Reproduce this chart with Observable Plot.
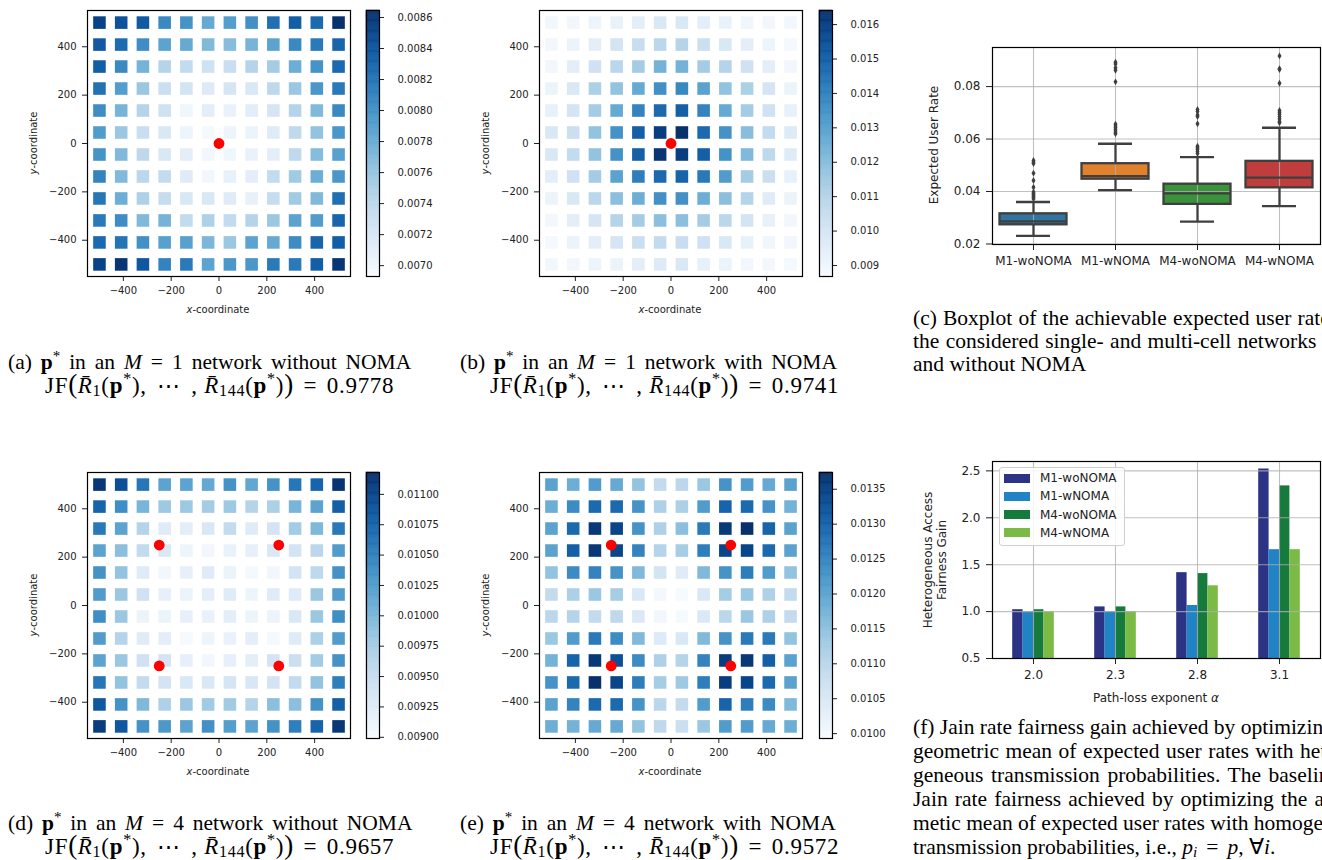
<!DOCTYPE html>
<html><head><meta charset="utf-8">
<script src="https://cdn.jsdelivr.net/npm/d3@7"></script>
<script src="https://cdn.jsdelivr.net/npm/@observablehq/plot@0.6"></script>
<style>
body{margin:0;background:#fff}
#page{position:relative;width:1322px;height:860px;overflow:hidden;background:#fff}
.ab{position:absolute}
.cap{position:absolute;font-family:"Liberation Serif","Times New Roman",serif;font-size:21.5px;line-height:23px;white-space:nowrap;color:#000}
.cap sub,.cap sup{font-size:70%;line-height:0}
.cap sub{vertical-align:-0.17em}
.l1{word-spacing:3.5px}
.m2{font-size:23px;letter-spacing:0.03em;line-height:21px}
.dots{padding:0 4px}
.just{width:448px;text-align:justify;text-align-last:justify}
.lbl{position:absolute;font-family:"DejaVu Sans";white-space:nowrap;color:#222;transform:translate(-50%,-50%)}
.rot{transform:translate(-50%,-50%) rotate(-90deg)}
.eq{padding:0 0.42em}
.big{font-size:118%;line-height:0}
.legend{position:absolute;border:1px solid #d0d0d0;border-radius:3px;background:rgba(255,255,255,0.85);font-family:"DejaVu Sans";font-size:12px;color:#222}
.legend .row{position:absolute;left:4px;height:10px;display:flex;align-items:center}
.legend .sw{width:26px;height:9px;margin-right:10px}
</style></head>
<body><div id="page"></div>
<script>
// ---------- data ----------
const gridCoords = [-500, -409.1, -318.2, -227.3, -136.4, -45.5, 45.5, 136.4, 227.3, 318.2, 409.1, 500];
// expected user rates (x 1e-3), rows from y = 500 (top) to y = -500 (bottom)
const rateA = [
[8.52,8.42,8.37,8.06,7.99,7.82,7.91,8.01,8.23,8.34,8.27,8.63],
[8.37,8.25,8.03,7.87,7.82,7.70,7.67,7.74,7.87,8.06,8.16,8.30],
[8.34,8.06,7.75,7.44,7.36,7.27,7.32,7.44,7.53,7.79,7.99,8.27],
[8.22,7.91,7.58,7.31,7.24,7.15,7.22,7.19,7.39,7.58,7.96,8.16],
[8.03,7.74,7.44,7.27,7.00,7.10,7.05,7.12,7.22,7.44,7.70,8.06],
[7.92,7.58,7.32,7.19,7.02,6.96,7.02,7.03,7.14,7.38,7.62,7.96],
[7.99,7.70,7.39,7.19,7.10,6.98,7.00,7.05,7.10,7.38,7.67,7.89],
[8.10,7.70,7.41,7.36,7.14,6.98,7.07,7.10,7.36,7.55,7.79,7.96],
[8.18,7.79,7.48,7.34,7.19,7.19,7.14,7.07,7.34,7.55,7.70,8.23],
[8.16,8.03,7.70,7.75,7.36,7.48,7.36,7.44,7.58,7.87,7.92,8.30],
[8.27,8.20,8.01,7.89,7.89,7.72,7.58,7.87,7.82,8.04,8.30,8.34],
[8.52,8.61,8.39,8.10,8.16,7.87,7.96,7.96,8.16,8.16,8.34,8.61]];
const rateB = [
[8.91,8.91,9.07,9.22,9.45,9.84,9.84,9.45,9.22,8.99,8.91,8.91],
[8.91,9.14,9.45,10.07,10.46,10.84,11.00,10.38,9.84,9.45,9.07,8.83],
[8.91,9.45,10.23,10.84,11.39,12.39,12.39,11.39,11.00,10.23,9.45,8.91],
[9.14,9.84,11.23,11.77,12.70,13.55,13.78,12.93,11.77,11.23,9.99,9.14],
[9.30,10.07,11.39,12.70,13.94,14.71,15.02,13.94,12.70,11.39,10.23,9.30],
[9.84,10.38,11.77,13.47,15.02,16.02,16.41,14.71,13.47,12.00,10.61,9.68],
[9.84,10.61,11.77,13.47,15.02,16.26,16.02,15.02,13.47,12.16,10.77,9.61],
[9.45,10.23,11.39,12.93,14.09,14.71,14.86,14.25,13.16,11.39,10.38,9.30],
[9.14,9.84,10.84,11.93,12.55,13.55,13.55,12.55,11.93,11.00,9.61,9.14],
[8.91,9.45,9.99,11.00,11.39,11.93,11.93,11.39,10.84,10.07,9.30,8.91],
[8.83,9.14,9.45,9.99,10.38,10.61,10.46,10.23,9.84,9.30,8.99,8.91],
[8.91,8.91,9.07,9.14,9.45,9.68,9.84,9.30,9.14,8.91,8.91,8.83]];
const rateD = [
[11.11,10.92,10.59,10.19,10.19,10.13,10.35,10.15,10.35,10.59,10.74,11.14],
[10.74,10.39,10.02,9.80,9.80,9.76,9.80,9.65,9.71,10.02,10.19,10.79],
[10.57,10.19,9.65,9.25,9.21,9.32,9.54,9.25,9.38,9.76,9.98,10.57],
[10.19,9.91,9.54,9.32,9.10,9.06,9.14,9.17,9.32,9.38,9.60,10.26],
[10.35,9.87,9.25,9.06,9.17,9.25,9.12,9.03,9.06,9.38,9.58,10.35],
[10.26,9.82,9.43,9.17,9.12,9.21,9.25,9.10,9.25,9.25,9.82,10.26],
[10.39,9.82,9.12,9.12,9.17,9.14,9.21,9.10,9.12,9.32,9.82,10.39],
[10.26,9.65,9.25,9.21,9.01,9.10,9.14,9.21,9.03,9.25,9.71,10.26],
[10.19,9.82,9.43,9.38,9.17,9.06,9.17,9.21,9.38,9.47,9.76,10.35],
[10.59,9.87,9.54,9.38,9.32,9.32,9.36,9.34,9.38,9.54,9.87,10.52],
[10.85,10.35,9.98,9.69,9.82,9.78,9.78,9.65,9.91,9.91,10.35,10.79],
[11.07,10.85,10.35,10.30,10.19,10.37,10.24,10.19,10.35,10.52,10.74,11.11]];
const rateE = [
[12.03,11.84,12.14,11.91,11.45,10.88,11.00,11.38,12.29,12.14,11.91,12.03],
[11.84,12.41,12.90,12.90,12.29,11.15,11.19,12.14,12.98,12.90,12.29,11.76],
[12.03,12.90,13.63,13.44,12.29,11.15,11.53,12.67,13.59,13.74,12.98,12.03],
[12.03,13.05,13.63,13.44,12.52,11.07,11.26,12.60,13.44,13.44,12.90,12.03],
[11.45,12.41,12.52,12.29,11.64,10.62,10.39,11.64,12.29,12.60,12.14,11.45],
[10.88,11.19,11.38,11.26,10.50,10.01,9.97,10.50,11.26,11.38,11.15,10.88],
[11.00,11.07,10.88,10.96,10.46,10.04,9.97,10.46,11.00,11.38,11.15,10.88],
[11.38,12.14,12.67,12.41,11.64,10.43,10.50,11.64,12.29,12.67,12.67,11.45],
[11.76,12.98,13.63,13.28,12.41,11.15,11.07,12.52,13.55,13.63,13.05,12.03],
[12.29,12.90,13.74,13.44,12.60,11.26,11.34,12.60,13.55,13.44,12.90,12.03],
[12.03,12.52,12.90,12.90,12.29,11.00,10.88,12.14,12.98,12.60,12.41,11.64],
[11.84,11.76,11.91,11.91,11.45,10.96,10.77,11.38,12.14,12.14,11.91,11.84]];
const bsM1 = [{x:0, y:0}];
const bsM4 = [{x:-250,y:250},{x:250,y:250},{x:-250,y:-250},{x:250,y:-250}];
const colorDomA = [6.93, 8.645], colorDomB = [8.68, 16.41], colorDomD = [8.99, 11.18], colorDomE = [9.93, 13.74];
const cbTicksA = [7.0,7.2,7.4,7.6,7.8,8.0,8.2,8.4,8.6];
const cbTicksB = [9,10,11,12,13,14,15,16];
const cbTicksD = [9.00,9.25,9.50,9.75,10.00,10.25,10.50,10.75,11.00];
const cbTicksE = [10.0,10.5,11.0,11.5,12.0,12.5,13.0,13.5];
const axisTicks = [-400,-200,0,200,400];

// boxplot (c)
const boxCats = ["M1-woNOMA","M1-wNOMA","M4-woNOMA","M4-wNOMA"];
const boxColors = ["#3274a1","#e1812c","#3a923a","#c03d3e"];
const boxQ1  = [0.0273, 0.0447, 0.0351, 0.0414];
const boxMed = [0.0286, 0.0459, 0.0393, 0.0453];
const boxQ3  = [0.0315, 0.0506, 0.0428, 0.0515];
const boxLo  = [0.0231, 0.0405, 0.0285, 0.0344];
const boxHi  = [0.0360, 0.0582, 0.0531, 0.0643];
const boxOutliers = [
  [0.0518,0.0512,0.0507,0.0470,0.0442,0.0416,0.0398,0.0393,0.0388,0.0383,0.0378,0.0372],
  [0.0893,0.0886,0.0872,0.0862,0.0818,0.0657,0.0650,0.0643,0.0635,0.0627,0.0620],
  [0.0713,0.0705,0.0692,0.0686,0.0658,0.0573,0.0567,0.0561,0.0553,0.0545],
  [0.0917,0.0868,0.0865,0.0813,0.0709,0.0702,0.0695,0.0686,0.0677,0.0667,0.0662]];
const boxYTicks = [0.02,0.04,0.06,0.08];

// bars (f)
const alphas = ["2.0","2.3","2.8","3.1"];
const barSeries = ["M1-woNOMA","M1-wNOMA","M4-woNOMA","M4-wNOMA"];
const barColors = ["#2c3385","#1f83c6","#167a3d","#7aba45"];
const barValues = [
  [1.02, 1.05, 1.415, 2.52],
  [1.00, 1.00, 1.065, 1.66],
  [1.02, 1.05, 1.405, 2.34],
  [1.00, 1.00, 1.275, 1.66]];
const barYTicks = [0.5,1.0,1.5,2.0,2.5];

// ---------- helpers ----------
const page = document.getElementById("page");
function place(node, left, top){ const d=document.createElement("div"); d.className="ab"; d.style.left=left+"px"; d.style.top=top+"px"; d.appendChild(node); page.appendChild(d); }
function html(cls, h, left, top, extra){ const d=document.createElement("div"); d.className=cls; d.innerHTML=h; d.style.left=left+"px"; d.style.top=top+"px"; if(extra) d.style.cssText+=extra; page.appendChild(d); return d; }
const baseStyle = {fontFamily:"DejaVu Sans", fontSize:"10px", color:"#222", background:"white", overflow:"visible"};

function cellsOf(vals){ const out=[]; vals.forEach((row,r)=>row.forEach((v,c)=>out.push({x:gridCoords[c], y:gridCoords[11-r], v}))); return out; }

function heat(vals, dom, bs, left, top){
  const svg = Plot.plot({
    width:355, height:306, marginLeft:87, marginRight:5, marginTop:10, marginBottom:30,
    style: baseStyle,
    x:{domain:[-550,550], ticks:axisTicks, tickSize:5, tickPadding:5, label:null},
    y:{domain:[-550,550], ticks:axisTicks, tickSize:5, tickPadding:6, label:null},
    color:{type:"linear", scheme:"blues", domain:dom},
    marks:[
      Plot.dot(cellsOf(vals), {x:"x", y:"y", fill:"v", symbol:"square", r:7.1}),
      Plot.dot(bs, {x:"x", y:"y", fill:"#ff0000", r:5.4}),
      Plot.frame({stroke:"#000", strokeWidth:1.2})
    ]
  });
  place(svg, left, top);
}
function colorbar(dom, ticks, fmt, left, top){
  const n = 240, steps = [];
  for (let i=0;i<n;i++){ const a = dom[0]+(dom[1]-dom[0])*i/n, b = dom[0]+(dom[1]-dom[0])*(i+1)/n; steps.push({x1:0,x2:1,a,b,m:(a+b)/2}); }
  const svg = Plot.plot({
    width:80, height:306, marginLeft:0, marginRight:67, marginTop:10, marginBottom:30,
    style: baseStyle,
    x:{domain:[0,1], axis:null},
    y:{domain:dom, axis:"right", ticks, tickFormat:fmt, tickSize:4, tickPadding:14, label:null},
    color:{type:"linear", scheme:"blues", domain:dom},
    marks:[
      Plot.rect(steps, {x1:"x1", x2:"x2", y1:"a", y2:"b", fill:"m", stroke:"m", strokeWidth:0.6}),
      Plot.frame({stroke:"#000", strokeWidth:1.2})
    ]
  });
  place(svg, left, top);
}

// ---------- heatmaps ----------
heat(rateA, colorDomA, bsM1, 0, 0);
heat(rateB, colorDomB, bsM1, 452, 0);
heat(rateD, colorDomD, bsM4, 0, 462);
heat(rateE, colorDomE, bsM4, 452, 462);
colorbar(colorDomA, cbTicksA, v=>(v/1000).toFixed(4), 366, 0);
colorbar(colorDomB, cbTicksB, v=>(v/1000).toFixed(3), 819, 0);
colorbar(colorDomD, cbTicksD, v=>(v/1000).toFixed(5), 366, 462);
colorbar(colorDomE, cbTicksE, v=>(v/1000).toFixed(4), 819, 462);

for (const [cx, cy] of [[218,309],[670,309],[218,771],[670,771]]) html("lbl","<i>x</i>-coordinate",cx,cy,"font-size:10px");
for (const [cx, cy] of [[33,143],[485,143],[33,605],[485,605]]) html("lbl rot","<i>y</i>-coordinate",cx,cy,"font-size:10px");

// ---------- boxplot (c) ----------
{
  const boxes = boxCats.map((cat,i)=>({cat, q1:boxQ1[i], med:boxMed[i], q3:boxQ3[i], lo:boxLo[i], hi:boxHi[i]}));
  const outs = boxCats.flatMap((cat,i)=>boxOutliers[i].map(v=>({cat, v})));
  const edge = "#3f3f3f", sw = 2.3;
  const svg = Plot.plot({
    width:390, height:232, marginLeft:60, marginRight:2, marginTop:5, marginBottom:30,
    style: {...baseStyle, fontSize:"12px"},
    x:{type:"band", domain:boxCats, padding:0, tickSize:6, tickPadding:6, label:null},
    y:{domain:[0.0198,0.0949], ticks:boxYTicks, tickFormat:d3.format(".2f"), tickSize:6, tickPadding:6, label:null},
    color:{domain:boxCats, range:boxColors},
    marks:[
      Plot.barY(boxes, {x:"cat", y1:"q1", y2:"q3", fill:"cat", insetLeft:7.5, insetRight:7.5}),
      Plot.ruleY(boxYTicks, {stroke:"#b0b0b0", strokeOpacity:0.8, strokeWidth:1.1}),
      Plot.ruleX(boxCats, {stroke:"#b0b0b0", strokeOpacity:0.8, strokeWidth:1.1}),
      Plot.barY(boxes, {x:"cat", y1:"q1", y2:"q3", fill:"none", stroke:edge, strokeWidth:sw, insetLeft:7.5, insetRight:7.5}),
      Plot.tickY(boxes, {x:"cat", y:"med", stroke:edge, strokeWidth:sw, insetLeft:7.5, insetRight:7.5}),
      Plot.ruleX(boxes, {x:"cat", y1:"lo", y2:"q1", stroke:edge, strokeWidth:sw}),
      Plot.ruleX(boxes, {x:"cat", y1:"q3", y2:"hi", stroke:edge, strokeWidth:sw}),
      Plot.tickY(boxes, {x:"cat", y:"lo", stroke:edge, strokeWidth:sw, insetLeft:24, insetRight:24}),
      Plot.tickY(boxes, {x:"cat", y:"hi", stroke:edge, strokeWidth:sw, insetLeft:24, insetRight:24}),
      Plot.dot(outs, {x:"cat", y:"v", symbol:"diamond", r:2.1, fill:edge}),
      Plot.frame({stroke:"#000", strokeWidth:1.2})
    ]
  });
  place(svg, 932, 42);
  html("lbl rot","Expected User Rate",934,145,"font-size:12px");
}

// ---------- bars (f) ----------
{
  const offsets = [-15.6,-5.2,5.2,15.6];
  const barMarks = barSeries.map((s,i)=>Plot.barY(alphas.map((a,j)=>({alpha:a, v:barValues[i][j]})),
      {x:"alpha", y:"v", fill:barColors[i], insetLeft:35.8, insetRight:35.8, dx:offsets[i], clip:true}));
  const svg = Plot.plot({
    width:390, height:232, marginLeft:60, marginRight:2, marginTop:5, marginBottom:30,
    style: {...baseStyle, fontSize:"12px"},
    x:{type:"band", domain:alphas, padding:0, tickSize:6, tickPadding:6, label:null},
    y:{domain:[0.5,2.6], ticks:barYTicks, tickFormat:d3.format(".1f"), tickSize:6, tickPadding:6, label:null},
    marks:[
      ...barMarks,
      Plot.ruleY(barYTicks, {stroke:"#b0b0b0", strokeOpacity:0.8, strokeWidth:1.1}),
      Plot.ruleX(alphas, {stroke:"#b0b0b0", strokeOpacity:0.8, strokeWidth:1.1}),
      Plot.frame({stroke:"#000", strokeWidth:1.2})
    ]
  });
  place(svg, 932, 456);
  html("lbl rot","Heterogeneous Access",928,560,"font-size:12px");
  html("lbl rot","Fairness Gain",942,560,"font-size:12px");
  html("lbl","Path-loss exponent <i>α</i>",1156,698,"font-size:12px");
  const lg = html("legend","",999,467,"width:124px;height:77px");
  barSeries.forEach((s,i)=>{ const r=document.createElement("div"); r.className="row"; r.style.top=(5+i*18.3)+"px";
    r.innerHTML=`<span class="sw" style="background:${barColors[i]}"></span><span>${s}</span>`; lg.appendChild(r); });
}

// ---------- captions ----------
const Rb = `<i>R\u0304</i>`;
const jf = n => `JF<span class="big">(</span>${Rb}<sub>1</sub>(<b>p</b><sup>*</sup>),<span class="dots"> ⋯ </span>, ${Rb}<sub>144</sub>(<b>p</b><sup>*</sup>)<span class="big">)</span><span class="eq">=</span>${n}`;
const l1 = (lab, m, w) => `(${lab}) <b>p</b><sup>*</sup> in an <i>M</i><span class="eq">=</span>${m} network ${w} NOMA`;
html("cap l1", l1("a","1","without"), 8, 350.5);
html("cap m2", jf("0.9778"), 45, 374.5);
html("cap l1", l1("b","1","with"), 460, 350.5);
html("cap m2", jf("0.9741"), 490, 374.5);
html("cap l1", l1("d","4","without"), 8, 811.5);
html("cap m2", jf("0.9657"), 45, 835.5);
html("cap l1", l1("e","4","with"), 460, 811.5);
html("cap m2", jf("0.9572"), 490, 835.5);
const capC = ["(c) Boxplot of the achievable expected user rates in","the considered single- and multi-cell networks with"];
capC.forEach((t,i)=>html("cap just", t, 913, 306.5+i*23));
html("cap", "and without NOMA", 913, 352.5);
const capF = ["(f) Jain rate fairness gain achieved by optimizing the","geometric mean of expected user rates with hetero-","geneous transmission probabilities. The baseline is","Jain rate fairness achieved by optimizing the arith-","metic mean of expected user rates with homogeneous"];
capF.forEach((t,i)=>html("cap just", t, 913, 715.5+i*24));
html("cap", `transmission probabilities, i.e., <i>p<sub>i</sub></i><span class="eq">=</span><i>p</i>, ∀<i>i</i>.`, 913, 835.5);
</script></body></html>
